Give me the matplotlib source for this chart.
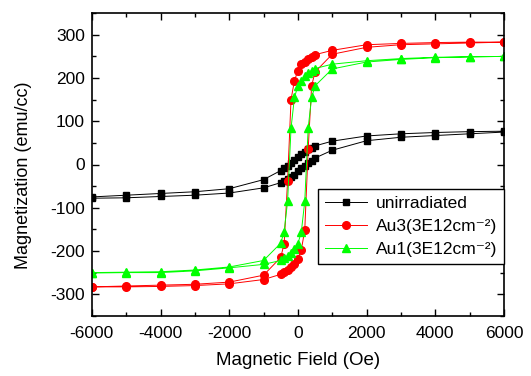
import numpy as np
import matplotlib
matplotlib.use("Agg")
import matplotlib.pyplot as plt
from matplotlib.ticker import MultipleLocator

plt.rcParams['font.family'] = ['Liberation Sans', 'DejaVu Sans']
plt.rcParams['axes.unicode_minus'] = False

# field sweep, down from +6000 then back up from -6000
h_down = [6000, 5000, 4000, 3000, 2000, 1000, 500, 400, 300, 200, 100, 0,
          -100, -200, -300, -400, -500, -1000, -2000, -3000, -4000, -5000, -6000]
h_up = [-6000, -5000, -4000, -3000, -2000, -1000, -500, -400, -300, -200, -100, 0,
        100, 200, 300, 400, 500, 1000, 2000, 3000, 4000, 5000, 6000]

unirr_down = [77, 76, 74, 71, 66, 54, 43, 38, 35, 30, 25, 17,
              10, 3, -4, -9, -14, -35, -56, -63, -67, -71, -75]
unirr_up = [-78, -77, -74, -71, -66, -54, -42, -38, -34, -29, -24, -16,
            -9, -3, 4, 9, 15, 33, 55, 63, 67, 71, 75]

au3_down = [283, 283, 282, 280, 277, 264, 254, 249, 244, 238, 232, 217,
            194, 150, -38, -183, -215, -256, -272, -277, -279, -281, -283]
au3_up = [-283, -283, -282, -280, -276, -266, -254, -249, -243, -237, -229, -218,
          -197, -152, 36, 182, 214, 255, 271, 277, 279, 281, 283]

au1_down = [250, 249, 248, 245, 240, 232, 222, 217, 212, 205, 194, 182,
            155, 84, -85, -155, -182, -222, -237, -244, -248, -249, -250]
au1_up = [-251, -250, -250, -246, -239, -231, -222, -217, -212, -205, -195, -183,
          -156, -85, 85, 155, 182, 221, 237, 243, 247, 249, 250]

labels = ['unirradiated', 'Au3(3E12cm\u207b\u00b2)', 'Au1(3E12cm\u207b\u00b2)']

fig = plt.figure(figsize=(5.31, 3.76), dpi=100)
ax = fig.add_axes([0.173, 0.160, 0.776, 0.805])

H = h_down + h_up
ax.plot(H, unirr_down + unirr_up, color='black', lw=0.7, marker='s', ms=4.5,
        label=labels[0])
ax.plot(H, au3_down + au3_up, color='#ff0000', lw=0.7, marker='o', ms=5.5,
        label=labels[1])
ax.plot(H, au1_down + au1_up, color='#00ff00', lw=0.7, marker='^', ms=6,
        label=labels[2])

ax.set_xlim(-6000, 6000)
ax.set_ylim(-350, 350)
ax.xaxis.set_major_locator(MultipleLocator(2000))
ax.xaxis.set_minor_locator(MultipleLocator(1000))
ax.yaxis.set_major_locator(MultipleLocator(100))
ax.yaxis.set_minor_locator(MultipleLocator(50))

ax.tick_params(which='both', top=True, right=True, direction='in', labelsize=12.5,
               width=1)
ax.tick_params(which='major', length=5)
ax.tick_params(which='minor', length=3)
ax.tick_params(axis='x', pad=7)
ax.tick_params(axis='y', pad=5)
for s in ax.spines.values():
    s.set_linewidth(1.2)

ax.set_xlabel('Magnetic Field (Oe)', fontsize=13.5)
ax.set_ylabel('Magnetization (emu/cc)', fontsize=13)
ax.xaxis.set_label_coords(0.5, -0.12)
ax.yaxis.set_label_coords(-0.146, 0.465)

leg = ax.legend(loc='lower right', bbox_to_anchor=(1.0, 0.172), fontsize=12.5,
                frameon=True, fancybox=False, edgecolor='black', framealpha=1,
                handlelength=2.4, borderpad=0.4, labelspacing=0.45,
                handletextpad=0.5, borderaxespad=0)
leg.get_frame().set_linewidth(1.0)

fig.savefig('out.png', dpi=100)
